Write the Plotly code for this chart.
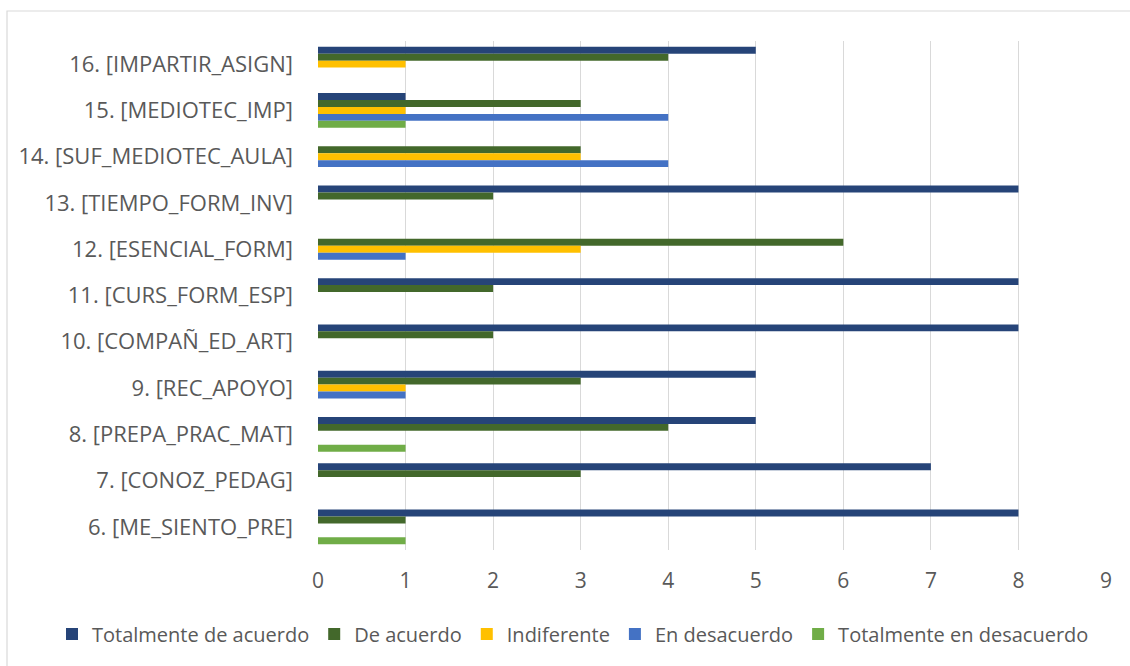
import plotly.graph_objects as go

# Survey items, listed top to bottom as they appear on the chart
items = [
    "16. [IMPARTIR_ASIGN]",
    "15. [MEDIOTEC_IMP]",
    "14. [SUF_MEDIOTEC_AULA]",
    "13. [TIEMPO_FORM_INV]",
    "12. [ESENCIAL_FORM]",
    "11. [CURS_FORM_ESP]",
    "10. [COMPAÑ_ED_ART]",
    "9. [REC_APOYO]",
    "8. [PREPA_PRAC_MAT]",
    "7. [CONOZ_PEDAG]",
    "6. [ME_SIENTO_PRE]",
]

# Response counts per item (same order as items)
totalmente_de_acuerdo = [5, 1, 0, 8, 0, 8, 8, 5, 5, 7, 8]
de_acuerdo = [4, 3, 3, 2, 6, 2, 2, 3, 4, 3, 1]
indiferente = [1, 1, 3, 0, 3, 0, 0, 1, 0, 0, 0]
en_desacuerdo = [0, 4, 4, 0, 1, 0, 0, 1, 0, 0, 0]
totalmente_en_desacuerdo = [0, 1, 0, 0, 0, 0, 0, 0, 1, 0, 1]

series = [
    ("Totalmente de acuerdo", totalmente_de_acuerdo, "#264478"),
    ("De acuerdo", de_acuerdo, "#43682B"),
    ("Indiferente", indiferente, "#FFC000"),
    ("En desacuerdo", en_desacuerdo, "#4472C4"),
    ("Totalmente en desacuerdo", totalmente_en_desacuerdo, "#70AD47"),
]

x_ticks = list(range(0, 10))

FONT = "Open Sans, Lato, Roboto, sans-serif"
GREY = "#595959"

fig = go.Figure()
for name, vals, color in series:
    fig.add_trace(go.Bar(
        y=items, x=vals, name=name, orientation="h",
        marker=dict(color=color, line=dict(width=0)),
    ))

# plot area: x 318..1106, y 41..550 (pixels)
L, R, T, B = 318, 24, 41, 116
W, H = 1130, 666
pw, ph = W - L - R, H - T - B

fig.update_layout(
    width=W, height=H,
    margin=dict(l=L, r=R, t=T, b=B, pad=0, autoexpand=False),
    paper_bgcolor="white", plot_bgcolor="white",
    barmode="group", bargap=0.25, bargroupgap=0,
    font=dict(family=FONT, color=GREY, size=21),
    xaxis=dict(
        range=[0, 9], tickvals=x_ticks, showgrid=True, gridcolor="#D9D9D9",
        gridwidth=1, zeroline=False, showline=False, ticks="",
        tickfont=dict(size=21, color=GREY, family=FONT), ticklabelstandoff=16,
        automargin=False,
    ),
    yaxis=dict(
        autorange="reversed", categoryorder="array", categoryarray=items,
        showgrid=False, zeroline=False, showline=False, ticks="",
        tickfont=dict(size=22, color=GREY, family=FONT), ticklabelstandoff=24,
        automargin=False,
    ),
    legend=dict(
        orientation="h",
        x=(52 - L) / pw, xanchor="left",
        y=-(634 - (T + ph)) / ph, yanchor="middle",
        font=dict(size=20, color=GREY, family=FONT),
        itemwidth=30, tracegroupgap=0,
    ),
    shapes=[dict(
        type="rect", xref="paper", yref="paper",
        x0=(7 - L) / pw, x1=(1145 - L) / pw,
        y0=-(680 - (T + ph)) / ph, y1=1 + (T - 11) / ph,
        line=dict(color="#D9D9D9", width=1.2), fillcolor="rgba(0,0,0,0)",
        layer="below",
    )],
)

fig.write_html("out.html")
